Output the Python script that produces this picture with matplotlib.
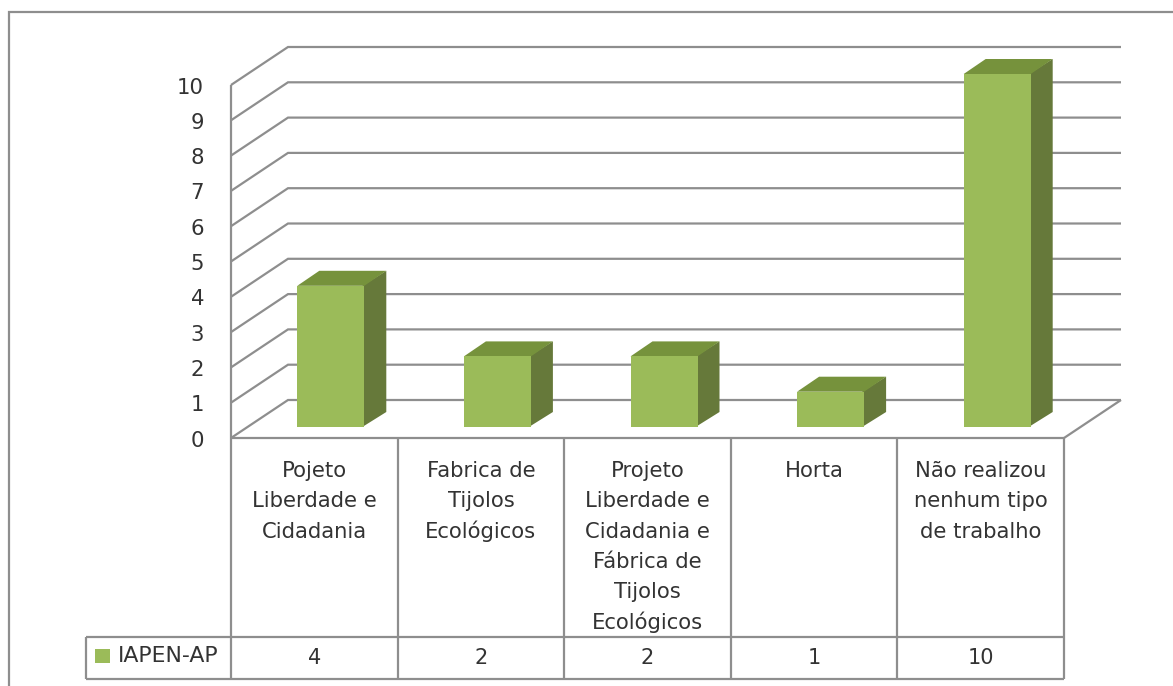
import matplotlib
matplotlib.use("Agg")
import matplotlib.pyplot as plt
from matplotlib.patches import Polygon, Rectangle

plt.rcParams['font.family'] = ['DejaVu Sans']

categories = [
    ["Pojeto", "Liberdade e", "Cidadania"],
    ["Fabrica de", "Tijolos", "Ecológicos"],
    ["Projeto", "Liberdade e", "Cidadania e", "Fábrica de", "Tijolos", "Ecológicos"],
    ["Horta"],
    ["Não realizou", "nenhum tipo", "de trabalho"],
]
values = [4, 2, 2, 1, 10]
series_name = "IAPEN-AP"
y_ticks = list(range(0, 11))

W, H = 1173, 686
X0, CATW = 231.0, 166.6
Y0, UNIT = 438.0, 35.3
FRONT, SIDE, TOP = "#9BBB59", "#66793A", "#76923C"
LINE = "#8E8E8E"
TXT = "#333333"

fig = plt.figure(figsize=(W / 100, H / 100), dpi=100, facecolor="white")
ax = fig.add_axes([0, 0, 1, 1])
ax.set_xlim(-X0 / CATW, (W - X0) / CATW)
ax.set_ylim((Y0 - H) / UNIT, Y0 / UNIT)
ax.axis("off")

px = 1 / CATW
py = 1 / UNIT
DX, DY = 57 * px, 38 * py      # wall depth
n = len(values)
lw = 1.6


def ln(xs, ys, **kw):
    ax.plot(xs, ys, color=LINE, lw=kw.pop("lw", lw), solid_capstyle="butt",
            solid_joinstyle="miter", zorder=kw.pop("zorder", 1), **kw)


# outer frame (open on the right and the bottom)
left, top = -X0 / CATW + 9 * px, Y0 / UNIT - 12 * py
bottom, right = ax.get_ylim()[0], ax.get_xlim()[1]
ln([left, left, right], [bottom, top, top])

# walls and gridlines
for v in y_ticks:
    ln([0, DX, n + DX], [v, v + DY, v + DY])
    ax.text(-27 * px, v - 2.5 * py, str(v), ha="right", va="center",
            fontsize=15.3, color=TXT)
ln([0, 0], [0, max(y_ticks)])
ln([n, n + DX], [0, DY])

# 3-D bars
bar_w = 67 * px
gap_x, gap_y = 16.5 * px, 11 * py    # front plane of the bars, from the floor edge
bd_x, bd_y = 22 * px, 15 * py        # bar depth
for i, v in enumerate(values):
    x0 = i + 0.5 - bar_w / 2 + gap_x
    x1 = x0 + bar_w
    yb = gap_y
    yt = v + gap_y
    ax.add_patch(Polygon([(x1 - 2 * px, yb), (x1 + bd_x, yb + bd_y), (x1 + bd_x, yt + bd_y), (x1 - 2 * px, yt)],
                         fc=SIDE, ec="none", zorder=3))
    ax.add_patch(Polygon([(x0, yt), (x0 + bd_x, yt + bd_y), (x1 + bd_x, yt + bd_y), (x1, yt)],
                         fc=TOP, ec="none", zorder=3.5))
    ax.add_patch(Rectangle((x0, yb), bar_w, v, fc=FRONT, ec="none", zorder=4))

# data table
row1 = -199 * py
row2 = -241 * py
leg_x = -145 * px
ln([0, n], [0, 0], zorder=5)
ln([leg_x, n], [row1, row1])
ln([leg_x, n], [row2, row2])
ln([leg_x, leg_x], [row1, row2])
for i in range(n + 1):
    ln([i, i], [0, row2])

for i, (lines, v) in enumerate(zip(categories, values)):
    for j, s in enumerate(lines):
        ax.text(i + 0.5, (-33 - 30.3 * j) * py, s, ha="center", va="center",
                fontsize=15.2, color=TXT)
    ax.text(i + 0.5, -220 * py, str(v), ha="center", va="center", fontsize=15, color=TXT)

# legend key
ax.add_patch(Rectangle((-136 * px, -225 * py), 15 * px, 14 * py, fc=FRONT, ec="none", zorder=4))
ax.text(-113 * px, -218 * py, series_name, ha="left", va="center", fontsize=15.8, color=TXT)

fig.savefig("out.png", dpi=100, facecolor="white")
